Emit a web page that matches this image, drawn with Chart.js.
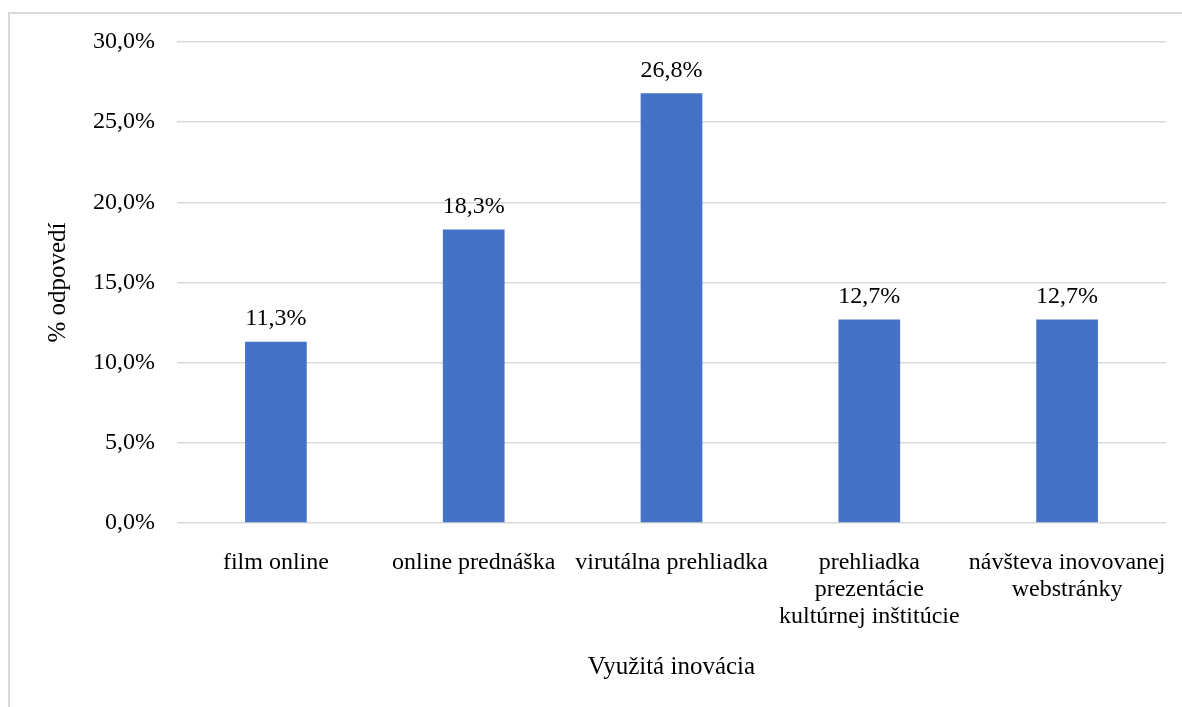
<!DOCTYPE html>
<html>
<head>
<meta charset="utf-8">
<script src="https://cdn.jsdelivr.net/npm/chart.js@4.4.1/dist/chart.umd.min.js"></script>
<style>
  html, body { margin: 0; padding: 0; background: #fff; overflow: hidden; }
  #frame { position: absolute; left: 8px; top: 12px; width: 1300px; height: 800px; border: 2px solid #d9d9d9; }
  #wrap { position: absolute; left: 0; top: 0; width: 1182px; height: 707px; }
</style>
</head>
<body>
<div id="frame"></div>
<div id="wrap"><canvas id="innovationChart" width="1182" height="707"></canvas></div>
<script>
const categories = [
  "film online",
  "online prednáška",
  "virutálna prehliadka",
  ["prehliadka", "prezentácie", "kultúrnej inštitúcie"],
  ["návšteva inovovanej", "webstránky"]
];
const shares = [11.3, 18.3, 26.8, 12.7, 12.7];
const yTicks = [0, 5, 10, 15, 20, 25, 30];

const fontFamily = "'Liberation Serif', 'Times New Roman', serif";

function pct(v) {
  return v.toFixed(1).replace(".", ",") + "%";
}

const barLabels = {
  id: "barLabels",
  afterDatasetsDraw(chart) {
    const ctx = chart.ctx;
    const meta = chart.getDatasetMeta(0);
    ctx.save();
    ctx.font = "24px " + fontFamily;
    ctx.fillStyle = "#000";
    ctx.textAlign = "center";
    ctx.textBaseline = "middle";
    meta.data.forEach((bar, i) => {
      ctx.fillText(pct(shares[i]), bar.x, bar.y - 23);
    });
    ctx.restore();
  }
};

document.addEventListener("DOMContentLoaded", () => {
  const ctx = document.getElementById("innovationChart").getContext("2d");
  new Chart(ctx, {
    type: "bar",
    data: {
      labels: categories,
      datasets: [{
        label: "% odpovedí",
        data: shares,
        backgroundColor: "#4472C4",
        categoryPercentage: 1,
        barPercentage: 0.312
      }]
    },
    options: {
      responsive: false,
      animation: false,
      layout: { padding: { left: 0, top: 42, right: 16, bottom: 0 } },
      plugins: {
        legend: { display: false },
        tooltip: { enabled: false }
      },
      scales: {
        x: {
          grid: { display: false, drawTicks: false },
          border: { display: false },
          ticks: {
            color: "#000",
            padding: 26,
            maxRotation: 0,
            autoSkip: false,
            font: { family: fontFamily, size: 24, lineHeight: 1.13 }
          },
          title: {
            display: true,
            text: "Využitá inovácia",
            color: "#000",
            padding: { top: 0, bottom: 25 },
            font: { family: fontFamily, size: 25, lineHeight: 1.2 }
          },
          afterFit(scale) {
            scale.height = 707 - 523;
            scale.paddingLeft = 0;
            scale.paddingRight = 0;
          }
        },
        y: {
          min: 0,
          max: 30,
          afterBuildTicks(scale) { scale.ticks = yTicks.map(v => ({ value: v })); },
          grid: { color: "#d9d9d9", lineWidth: 1.5, drawTicks: false },
          border: { display: false },
          ticks: {
            color: "#000",
            padding: 22,
            font: { family: fontFamily, size: 24 },
            callback: v => pct(v)
          },
          title: {
            display: true,
            text: "% odpovedí",
            color: "#000",
            padding: { top: 43, bottom: 0 },
            font: { family: fontFamily, size: 25, lineHeight: 1.2 }
          },
          afterFit(scale) {
            scale.width = 177;
            scale.paddingTop = 0;
            scale.paddingBottom = 0;
          }
        }
      }
    },
    plugins: [barLabels]
  });
});
</script>
</body>
</html>
